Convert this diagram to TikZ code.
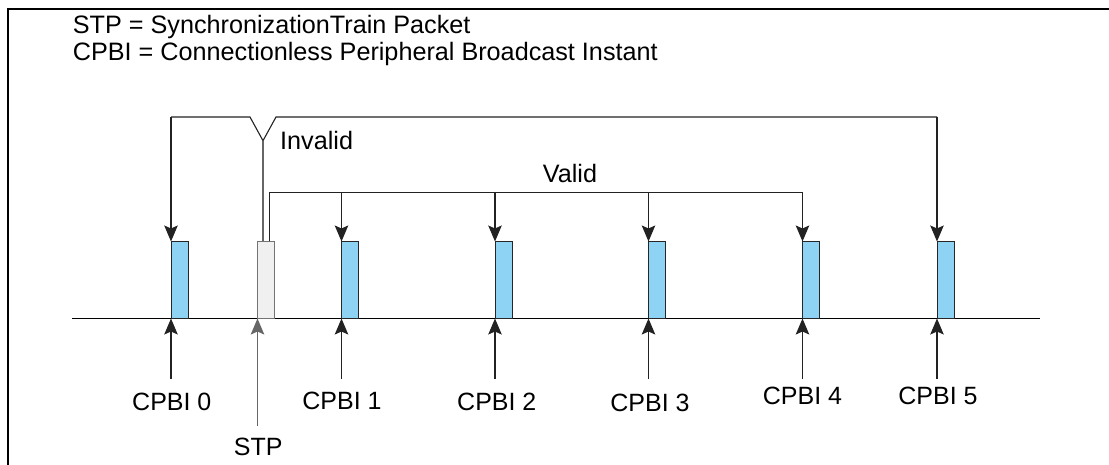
\documentclass[tikz,border=0pt]{standalone}
\usepackage{fontspec}
\setmainfont{Liberation Sans}
\usetikzlibrary{arrows.meta}
\definecolor{barblue}{HTML}{8ED2F4}
\definecolor{bargray}{HTML}{F0F0F0}
\definecolor{lncol}{HTML}{222222}
\tikzset{
  bar/.style={draw=black!85, line width=1pt, fill=barblue, minimum width=17pt, minimum height=77pt, inner sep=0pt, outer sep=0pt, anchor=south west},
  stpbar/.style={bar, fill=bargray, draw=black!55},
  ln/.style={draw=lncol, line width=1.1pt},
  arr/.style={ln, -{Stealth[length=16pt,width=13.5pt,inset=3pt]}},
  lbl/.style={inner sep=0pt, anchor=base, font=\fontsize{25}{30}\selectfont},
  hdr/.style={inner sep=0pt, anchor=base west, font=\fontsize{25.2}{30}\selectfont},
}
\begin{document}
\begin{tikzpicture}[x=1pt,y=-1pt]
\useasboundingbox (0,0) rectangle (1109,465);
% frame
\draw[line width=2pt] (7.7,465) -- (7.7,9) -- (1109,9);
% header
\node[hdr] (h1) at (72.7,33.3) {STP = SynchronizationTrain Packet};
\node[hdr] (h2) at (72.7,61) {CPBI = Connectionless Peripheral Broadcast Instant};
% axis
\coordinate (axL) at (72,318.5);
\coordinate (axR) at (1040,318.5);
\draw[line width=1.5pt] (axL) -- (axR);
% bars
\node[bar] (b0) at (171,318.5) {};
\node[stpbar] (stp) at (257.5,318.5) {};
\node[bar] (b1) at (341.5,318.5) {};
\node[bar] (b2) at (495,318.5) {};
\node[bar] (b3) at (648.5,318.5) {};
\node[bar] (b4) at (802.5,318.5) {};
\node[bar] (b5) at (937,318.5) {};
% helper coordinates
\coordinate (inv) at (0,117);
\coordinate (val) at (0,192.7);
\coordinate (base) at (0,379);
\coordinate (stpbase) at (0,426);
\coordinate (vL) at (250,117);
\coordinate (vB) at (263,140.7);
\coordinate (vR) at (276,117);
\coordinate (vs) at (269.3,0);
% invalid bracket
\draw[ln] (b0.north west |- inv) -- (vL) -- (vB) -- (vR) -- (b5.north west |- inv);
\draw[arr] (b0.north west |- inv) -- (b0.north west);
\draw[arr] (b5.north west |- inv) -- (b5.north west);
\draw[ln, draw=black!60] (vB) -- (vB |- stp.north);
\node[hdr] (tinv) at (280,150) {Invalid};
% valid bracket
\draw[ln] (vs |- stp.north) -- (vs |- val) -- (b4.north west |- val);
\foreach \b in {b1,b2,b3,b4}{
  \draw[arr] (\b.north west |- val) -- (\b.north west);
}
\node[hdr] (tval) at (542.7,182.7) {Valid};
% bottom labels
\node[lbl] (l0) at (171.8,410.7) {CPBI 0};
\node[lbl] (lstp) at (258.3,455) {STP};
\node[lbl] (l1) at (342,409.3) {CPBI 1};
\node[lbl] (l2) at (496.8,410) {CPBI 2};
\node[lbl] (l3) at (650,411.7) {CPBI 3};
\node[lbl] (l4) at (802.5,404) {CPBI 4};
\node[lbl] (l5) at (938,404) {CPBI 5};
% bottom arrows
\foreach \b in {b0,b1,b2,b3,b4,b5}{
  \draw[arr] (\b.south west |- base) -- (\b.south west);
}
\draw[arr, draw=black!60] (stp.south west |- stpbase) -- (stp.south west);
\end{tikzpicture}
\end{document}
